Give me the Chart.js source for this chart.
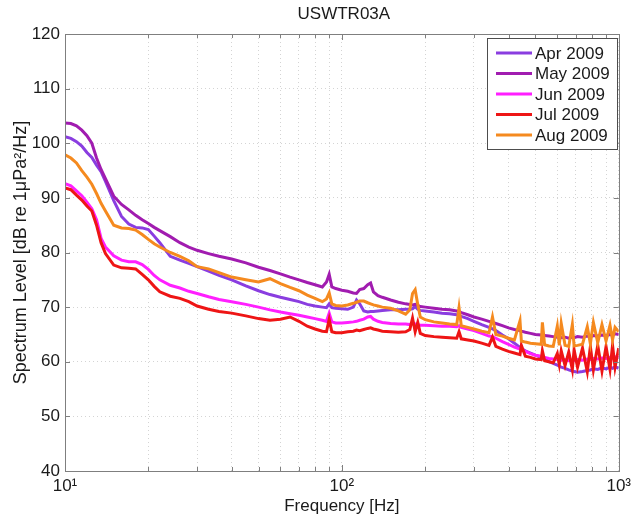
<!DOCTYPE html>
<html>
<head>
<meta charset="utf-8">
<script src="https://cdn.jsdelivr.net/npm/chart.js@4.4.0/dist/chart.umd.min.js"></script>
<style>
  html, body { margin: 0; padding: 0; background: #fff; }
  #wrap { width: 636px; height: 525px; }
</style>
</head>
<body>
<div id="wrap"><canvas id="chart" width="636" height="525"></canvas></div>
<script>
// frequencies (Hz) shared by all months
const freqs = [
  10, 10.5, 11, 11.5, 12, 12.5, 13, 13.5, 14, 15,
  16, 17, 18, 19, 20, 21, 22, 24, 26, 28,
  30, 33, 36, 40, 45, 50, 55, 60, 65, 70,
  75, 80, 85, 88, 90, 92, 95, 100, 105, 110,
  113, 116, 120, 124, 127, 130, 135, 140, 150, 160,
  170, 176, 180, 184, 188, 192, 200, 215, 230, 245,
  260, 265, 270, 285, 300, 320, 340, 350, 360, 380,
  400, 420, 440, 445, 460, 480, 500, 525, 530, 540,
  560, 580, 600, 610, 620, 640, 660, 680, 690, 710,
  740, 770, 790, 810, 840, 870, 900, 930, 950, 970, 1000
];

// spectrum level, dB re 1 uPa^2/Hz
const apr2009 = [
  101.2, 100.9, 100.3, 99.5, 98.3, 97.4, 96.0, 94.8, 93.0, 89.5,
  86.6, 85.2, 84.6, 84.5, 84.2, 83.0, 81.8, 79.3, 78.6, 78.0,
  77.4, 76.6, 75.8, 75.0, 73.9, 73.0, 72.3, 71.8, 71.4, 71.0,
  70.5, 70.2, 70.0, 69.9, 70.6, 69.9, 69.8, 69.7, 69.6, 70.0,
  71.3, 70.6, 69.3, 69.1, 69.2, 69.2, 69.3, 69.4, 69.5, 69.5,
  69.6, 69.6, 69.7, 70.1, 69.6, 69.4, 69.3, 69.1, 68.9, 68.8,
  68.6, 68.5, 68.3, 67.9, 67.4, 66.8, 66.3, 66.0, 65.7, 64.9,
  64.2, 63.4, 62.6, 62.4, 62.0, 61.6, 61.2, 60.8, 60.7, 60.5,
  60.0, 59.7, 59.4, 59.2, 59.0, 58.8, 58.5, 58.3, 58.2, 58.1,
  58.2, 58.4, 58.5, 58.7, 58.6, 58.9, 58.7, 59.0, 58.8, 59.1, 58.8
];
const may2009 = [
  103.7, 103.6, 103.2, 102.4, 101.4, 100.0, 97.3, 95.2, 93.5, 90.3,
  88.8, 87.8, 86.8, 86.0, 85.3, 84.6, 84.0, 82.9, 81.8, 81.0,
  80.4, 79.8, 79.3, 78.8, 78.1, 77.3, 76.7, 76.1, 75.5, 75.0,
  74.5, 74.1, 73.7, 74.6, 76.0, 73.7, 73.4, 73.1, 72.9, 72.6,
  72.5, 73.2, 73.4, 74.1, 74.4, 72.8, 72.1, 71.8, 71.3, 70.9,
  70.6, 70.5, 70.4, 70.5, 70.3, 70.1, 70.0, 69.8, 69.6, 69.5,
  69.3, 69.2, 69.0, 68.6, 68.2, 67.8, 67.4, 67.2, 67.0, 66.6,
  66.2, 65.9, 65.7, 65.6, 65.4, 65.2, 65.0, 64.9, 64.8, 64.8,
  64.7, 64.6, 64.5, 64.6, 64.4, 64.5, 64.3, 64.5, 64.4, 64.6,
  64.5, 64.7, 64.6, 64.8, 64.7, 64.9, 64.8, 65.0, 64.9, 65.1, 65.0
];
const jun2009 = [
  92.6, 92.2, 91.3, 90.4, 89.2, 88.0, 86.0, 82.6, 81.0, 79.4,
  78.6, 78.3, 78.3, 77.8, 76.9, 75.8, 75.0, 74.0, 73.5, 72.9,
  72.5, 71.9, 71.4, 71.0, 70.5, 70.0, 69.5, 69.1, 68.8, 68.5,
  68.2, 67.9, 67.6, 67.4, 68.9, 67.3, 67.1, 67.1, 67.2, 67.3,
  67.4, 67.6, 67.8, 68.2, 68.3, 67.8, 67.4, 67.2, 67.0, 66.9,
  66.9, 66.8, 67.2, 66.9, 66.8, 66.7, 66.7, 66.6, 66.5, 66.5,
  66.4, 66.6, 66.3, 66.0, 65.7, 65.2, 64.7, 64.6, 64.3, 63.7,
  63.2, 62.7, 62.3, 62.2, 61.9, 61.5, 61.2, 61.0, 60.9, 60.8,
  60.6, 60.5, 60.4, 60.5, 60.3, 60.4, 60.2, 60.3, 60.2, 60.4,
  60.3, 60.5, 60.4, 60.6, 60.5, 60.7, 60.6, 60.8, 60.7, 60.9, 60.8
];
const jul2009 = [
  91.8, 91.5, 90.5, 89.6, 88.5, 87.6, 85.0, 81.8, 79.8, 77.7,
  77.2, 77.1, 77.0, 76.0, 75.0, 73.8, 72.8, 72.0, 71.6, 71.0,
  70.2, 69.6, 69.2, 68.9, 68.4, 67.9, 67.6, 67.8, 68.2, 67.4,
  66.5, 66.0, 65.6, 65.5, 67.8, 65.5, 65.3, 65.3, 65.5, 65.6,
  65.8, 65.7, 65.9, 66.1, 66.2, 66.0, 65.8, 65.6, 65.5, 65.4,
  65.5, 65.9, 68.0, 65.5, 67.2, 65.2, 64.8, 64.6, 64.5, 64.4,
  64.3, 65.5, 64.2, 64.0, 63.8, 63.4, 63.0, 64.5, 62.8, 62.3,
  61.9, 61.6, 61.3, 63.0, 61.0, 60.8, 60.5, 60.4, 62.0, 60.2,
  60.0, 59.8, 61.5, 59.5, 62.0, 59.3, 61.8, 58.6, 62.2, 59.0,
  62.5, 58.2, 62.8, 58.5, 63.0, 58.3, 62.8, 58.6, 63.0, 59.0, 62.5
];
const aug2009 = [
  97.9, 97.3, 96.4, 95.0, 93.8, 92.5, 90.8, 89.0, 87.6, 85.0,
  84.5, 84.4, 84.1, 83.3, 82.4, 81.6, 81.0, 80.0, 79.3, 78.5,
  77.4, 77.0, 76.3, 75.5, 75.0, 74.6, 75.2, 74.3, 73.6, 73.0,
  72.2, 71.6, 71.0, 71.5, 72.6, 70.6, 70.3, 70.2, 70.4, 70.7,
  70.9, 71.1, 71.1, 70.8, 70.6, 70.4, 70.2, 70.0, 69.8, 69.3,
  68.7, 69.5, 72.5, 73.2, 70.5, 68.2, 67.7, 67.3, 67.1, 66.9,
  66.8, 69.9, 66.6, 66.3, 66.0, 65.6, 65.3, 68.2, 65.0, 64.7,
  64.3, 64.0, 67.5, 63.8, 63.6, 63.4, 63.3, 63.2, 67.2, 63.1,
  62.9, 62.8, 66.5, 63.0, 67.0, 63.0, 62.8, 66.8, 62.9, 63.0,
  63.2, 66.4, 63.3, 67.2, 63.5, 66.8, 63.8, 66.7, 64.0, 66.3, 65.5
];

const seriesNames = ['Apr 2009', 'May 2009', 'Jun 2009', 'Jul 2009', 'Aug 2009'];
const seriesData = [apr2009, may2009, jun2009, jul2009, aug2009];
const seriesColors = ['#8a3de0', '#a11cb0', '#ff1fff', '#ee1515', '#f58a1f'];

const xTicks = [10, 20, 30, 40, 50, 60, 70, 80, 90, 100, 200, 300, 400, 500, 600, 700, 800, 900, 1000];
const xTickLabels = { 10: '10¹', 100: '10²', 1000: '10³' };

const FONT = '"Liberation Sans", Arial, sans-serif';
const TEXT = '#1a1a1a';

const datasets = seriesNames.map((name, i) => ({
  label: name,
  data: freqs.map((f, j) => ({ x: f, y: seriesData[i][j] })),
  borderColor: seriesColors[i],
  backgroundColor: seriesColors[i],
  borderWidth: 3,
  pointRadius: 0,
  tension: 0,
  fill: false,
  order: seriesNames.length - i
}));

// box, inward ticks, title and legend, matlab style
const matlabFrame = {
  id: 'matlabFrame',
  afterDatasetsDraw(chart) {
    const ctx = chart.ctx;
    const a = chart.chartArea;
    const xs = chart.scales.x;
    const ys = chart.scales.y;
    ctx.save();
    ctx.strokeStyle = '#7f7f7f';
    ctx.lineWidth = 1;
    ctx.beginPath();
    ys.ticks.forEach(t => {
      const y = Math.round(ys.getPixelForValue(t.value)) + 0.5;
      ctx.moveTo(a.left, y); ctx.lineTo(a.left + 5, y);
      ctx.moveTo(a.right, y); ctx.lineTo(a.right - 5, y);
    });
    xTicks.forEach(v => {
      const x = Math.round(xs.getPixelForValue(v)) + 0.5;
      const len = xTickLabels[v] ? 6 : 4;
      ctx.moveTo(x, a.bottom); ctx.lineTo(x, a.bottom - len);
      ctx.moveTo(x, a.top); ctx.lineTo(x, a.top + len);
    });
    ctx.stroke();
    ctx.strokeRect(Math.round(a.left) + 0.5, Math.round(a.top) + 0.5,
      Math.round(a.right - a.left), Math.round(a.bottom - a.top));

    // title
    ctx.fillStyle = TEXT;
    ctx.font = '17px ' + FONT;
    ctx.textAlign = 'center';
    ctx.textBaseline = 'middle';
    ctx.fillText('USWTR03A', (a.left + a.right) / 2 + 2, 14);

    // legend
    const bx = 487, by = 38, bw = 130, bh = 111;
    ctx.fillStyle = '#fff';
    ctx.fillRect(bx, by, bw, bh);
    ctx.strokeStyle = '#4d4d4d';
    ctx.strokeRect(bx + 0.5, by + 0.5, bw, bh);
    ctx.textAlign = 'left';
    chart.data.datasets.forEach((ds, i) => {
      const y = by + 15 + i * 20.5;
      ctx.strokeStyle = ds.borderColor;
      ctx.lineWidth = 3;
      ctx.beginPath();
      ctx.moveTo(bx + 9, y); ctx.lineTo(bx + 45, y);
      ctx.stroke();
      ctx.fillStyle = TEXT;
      ctx.fillText(ds.label, bx + 48, y + 1);
    });
    ctx.restore();
  }
};

new Chart(document.getElementById('chart'), {
  type: 'line',
  data: { datasets: datasets },
  options: {
    responsive: false,
    animation: false,
    events: [],
    layout: { padding: { left: 6, right: 12, top: 34, bottom: 6 } },
    plugins: {
      legend: { display: false },
      tooltip: { enabled: false }
    },
    scales: {
      x: {
        type: 'logarithmic',
        min: 10,
        max: 1000,
        afterBuildTicks: scale => {
          scale.ticks = xTicks.map(v => ({ value: v }));
        },
        afterFit: scale => { scale.height = 48; },
        ticks: {
          autoSkip: false,
          maxRotation: 0,
          padding: 5,
          color: TEXT,
          font: { family: FONT, size: 17 },
          callback: v => xTickLabels[v] || ''
        },
        grid: { color: '#d4d4d4', drawTicks: false },
        border: { display: false, dash: [1, 3] },
        title: {
          display: true,
          text: 'Frequency [Hz]',
          color: TEXT,
          font: { family: FONT, size: 17 },
          padding: { top: 0, bottom: 2 }
        }
      },
      y: {
        min: 40,
        max: 120,
        afterFit: scale => { scale.width = 59; },
        ticks: {
          stepSize: 10,
          padding: 5,
          color: TEXT,
          font: { family: FONT, size: 17 }
        },
        grid: { color: '#d4d4d4', drawTicks: false },
        border: { display: false, dash: [1, 3] },
        title: {
          display: true,
          text: 'Spectrum Level [dB re 1μPa²/Hz]',
          color: TEXT,
          font: { family: FONT, size: 18 },
          padding: { top: 4, bottom: 0 }
        }
      }
    }
  },
  plugins: [matlabFrame]
});
</script>
</body>
</html>
